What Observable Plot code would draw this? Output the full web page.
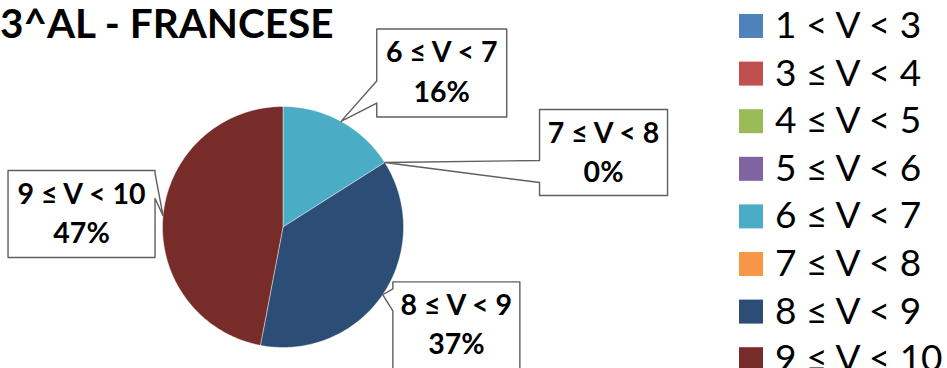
<!DOCTYPE html>
<html>
<head>
<meta charset="utf-8">
<script src="https://cdn.jsdelivr.net/npm/d3@7"></script>
<script src="https://cdn.jsdelivr.net/npm/@observablehq/plot@0.6"></script>
<style>
  html, body { margin: 0; padding: 0; background: #fff; }
  #chart { width: 947px; height: 368px; overflow: hidden; }
</style>
</head>
<body>
<div id="chart"></div>
<script>
// ---- data ----
const title = "3^AL - FRANCESE";
const categories = ["1 < V < 3", "3 ≤ V < 4", "4 ≤ V < 5", "5 ≤ V < 6", "6 ≤ V < 7", "7 ≤ V < 8", "8 ≤ V < 9", "9 ≤ V < 10"];
const values = [null, null, null, null, 16, 0, 37, 47]; // percent
const colors = ["#4F81BD", "#C0504D", "#9BBB59", "#8064A2", "#4BACC6", "#F79646", "#2C4D75", "#772C2A"];

// ---- layout (not data) ----
const W = 947, H = 368;
const cx = 282.5, cy = 226.5, R = 120.5;
const FONT = "Lato, 'Open Sans', sans-serif";
// callout boxes: offset of box top-left from slice anchor (px), size, notch side & notch y (relative to box top)
const callouts = {
  "6 ≤ V < 7": {dx: 35.7, dy: -92.4, w: 130, h: 88, side: "left", n1: 52, n2: 74},
  "7 ≤ V < 8": {dx: 154.8, dy: -52.9, w: 128, h: 86, side: "left", n1: 51, n2: 73},
  "8 ≤ V < 9": {dx: 10.2, dy: -12.9, w: 127, h: 87, side: "left", n1: 7, n2: 29},
  "9 ≤ V < 10": {dx: -155, dy: -45.2, w: 147, h: 87, side: "right", n1: 3, n2: 28}
};

// ---- pie geometry from the values ----
const arcs = d3.pie().sort(null).value(v => v ?? 0).startAngle(0).endAngle(2 * Math.PI)(values);
const slices = [];
const boxes = [];
const texts = [];
const toU = (px, py) => ({x: (px - cx) / R, y: -(py - cy) / R}); // pixel -> unit

arcs.forEach((a, i) => {
  const v = values[i];
  if (v == null) return;
  if (a.endAngle - a.startAngle > 0) {
    const pts = [{x: 0, y: 0}];
    const n = Math.max(2, Math.ceil((a.endAngle - a.startAngle) / (Math.PI / 180)));
    for (let k = 0; k <= n; ++k) {
      const t = a.startAngle + (a.endAngle - a.startAngle) * k / n;
      pts.push({x: Math.sin(t), y: Math.cos(t)});
    }
    pts.push({x: 0, y: 0});
    slices.push({color: colors[i], pts});
  }
  const mid = (a.startAngle + a.endAngle) / 2;
  const ax = cx + R * Math.sin(mid), ay = cy - R * Math.cos(mid);
  const c = callouts[categories[i]];
  if (!c) return;
  const x0 = ax + c.dx, y0 = ay + c.dy, x1 = x0 + c.w, y1 = y0 + c.h;
  let poly;
  if (c.side === "left") {
    poly = [[x0, y0], [x1, y0], [x1, y1], [x0, y1], [x0, y0 + c.n2], [ax, ay], [x0, y0 + c.n1], [x0, y0]];
  } else {
    poly = [[x0, y0], [x1, y0], [x1, y0 + c.n1], [ax, ay], [x1, y0 + c.n2], [x1, y1], [x0, y1], [x0, y0]];
  }
  boxes.push(poly.map(([px, py]) => toU(px, py)));
  const mx = (x0 + x1) / 2;
  texts.push({...toU(mx, y0 + 24), text: categories[i]});
  texts.push({...toU(mx, y0 + 63.5), text: `${v}%`});
});

const marks = [];
slices.forEach(s => marks.push(Plot.line(s.pts, {x: "x", y: "y", fill: s.color, stroke: "#ffffff", strokeWidth: 0.6, strokeOpacity: 0.7, curve: "linear"})));
boxes.forEach(b => marks.push(Plot.line(b, {x: "x", y: "y", fill: "white", stroke: "#5f5f5f", strokeWidth: 1.4, curve: "linear"})));
marks.push(Plot.text(texts, {x: "x", y: "y", text: "text", fontSize: 28.5, fontWeight: "bold", fill: "black", textAnchor: "middle", lineAnchor: "middle"}));

const chart = Plot.plot({
  width: W, height: H,
  margin: 0,
  style: {background: "white", fontFamily: FONT, overflow: "visible"},
  x: {domain: [-1, 1], range: [cx - R, cx + R], axis: null},
  y: {domain: [-1, 1], range: [cy + R, cy - R], axis: null},
  marks
});

// title & legend
const svg = d3.select(chart);
svg.append("text").attr("x", 0).attr("y", 38).attr("text-anchor", "start").attr("font-family", FONT).attr("font-weight", "bold")
  .attr("font-size", 40.5).attr("fill", "black").text(title);
const lg = svg.append("g").attr("text-anchor", "start");
categories.forEach((cat, i) => {
  const y = 14 + i * 47.6;
  lg.append("rect").attr("x", 739).attr("y", y).attr("width", 24).attr("height", 24).attr("fill", colors[i]);
  lg.append("text").attr("x", 775).attr("y", y + 24).attr("font-family", FONT).attr("font-size", 37).attr("fill", "black").text(cat);
});

document.getElementById("chart").appendChild(chart);
</script>
</body>
</html>
